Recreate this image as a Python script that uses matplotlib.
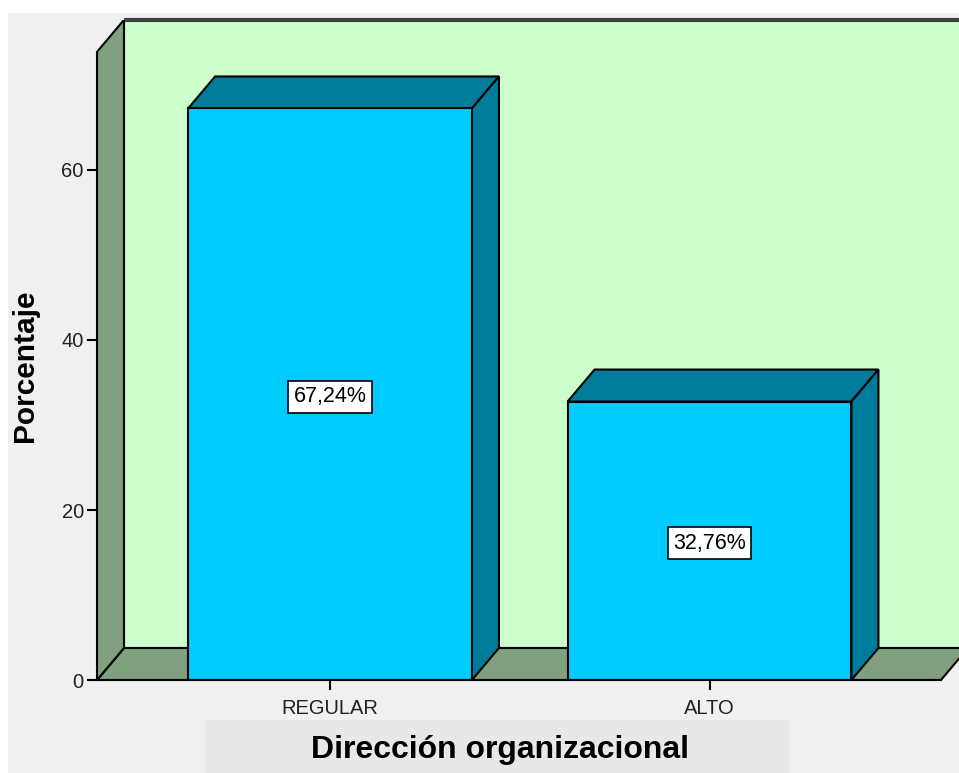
import matplotlib.pyplot as plt
from matplotlib.patches import Polygon, Rectangle

# data
categories = ['REGULAR', 'ALTO']
percentages = [67.24, 32.76]
value_labels = ['67,24%', '32,76%']
y_ticks = [0, 20, 40, 60]

plt.rcParams['font.family'] = ['Liberation Sans', 'DejaVu Sans']

W, H = 959, 773
fig = plt.figure(figsize=(W / 100, H / 100), dpi=100, facecolor='white')

# grey panel behind the chart
fig.patches.append(Rectangle((8 / W, 0), 1, (H - 13) / H, transform=fig.transFigure,
                             facecolor='#f0f0f0', edgecolor='none', zorder=-2))
# box behind the x label
fig.patches.append(Rectangle((205 / W, 0), (790 - 205) / W, (773 - 720) / H,
                             transform=fig.transFigure, facecolor='#e8e8e8',
                             edgecolor='none', zorder=-1))

ax = fig.add_axes([97 / W, 93 / H, (W - 97) / W, 660 / H])
ax.patch.set_visible(False)

x_left, x_front_end = -0.614, 1.610
x_right = x_left + (W - 97) / 379.5
y_top = 73.9
ax.set_xlim(x_left, x_right)
ax.set_ylim(0, 660 / 8.5)

# depth offset of the 3D look (data units)
DX = 27 / 379.5
DY = 32 / 8.5

edge = dict(edgecolor='black', linewidth=1.5, joinstyle='miter')
wall = '#ccffcc'
floor = '#80a080'
front = '#00ccff'
dark = '#007c9b'

# back wall
ax.add_patch(Polygon([(x_left + DX, DY), (x_right + 1, DY), (x_right + 1, y_top + DY),
                      (x_left + DX, y_top + DY)], facecolor=wall, zorder=1, **edge))
ax.plot([x_left + DX, x_right + 1], [y_top + DY] * 2, color='#404040', lw=3,
        solid_capstyle='butt', zorder=1.5, clip_on=False)
# floor
ax.add_patch(Polygon([(x_left, 0), (x_front_end, 0), (x_front_end + DX, DY),
                      (x_left + DX, DY)], facecolor=floor, zorder=2, **edge))
# left side wall
ax.add_patch(Polygon([(x_left, 0), (x_left + DX, DY), (x_left + DX, y_top + DY),
                      (x_left, y_top)], facecolor=floor, zorder=2, **edge))

# bars
bw = 0.748
for i, (v, lab) in enumerate(zip(percentages, value_labels)):
    l, r = i - bw / 2, i + bw / 2
    ax.add_patch(Polygon([(l, v), (r, v), (r + DX, v + DY), (l + DX, v + DY)],
                         facecolor=dark, zorder=3, **edge))
    ax.add_patch(Polygon([(r, 0), (r + DX, DY), (r + DX, v + DY), (r, v)],
                         facecolor=dark, zorder=3, **edge))
    ax.add_patch(Rectangle((l, 0), bw, v, facecolor=front, zorder=4, **edge))
    ax.text(i, v / 2 - 0.3, lab, ha='center', va='center', fontsize=15.5, zorder=5,
            bbox=dict(boxstyle='square,pad=0.25', facecolor='white',
                      edgecolor='black', linewidth=1.2))

# axes
for s in ['top', 'right']:
    ax.spines[s].set_visible(False)
ax.spines['left'].set_bounds(0, y_top)
ax.spines['bottom'].set_bounds(x_left, x_front_end)
for s in ['left', 'bottom']:
    ax.spines[s].set_linewidth(1.5)
    ax.spines[s].set_zorder(6)
ax.set_yticks(y_ticks)
ax.set_xticks(range(len(categories)))
ax.set_xticklabels(categories)
ax.tick_params(axis='both', length=7.5, width=1.5, labelsize=14.5,
               labelcolor='#222222')
ax.tick_params(axis='y', pad=2)
ax.tick_params(axis='x', pad=6)

fig.text(25 / W, 1 - 366 / H, 'Porcentaje', rotation=90, ha='center', va='center',
         fontsize=21.5, fontweight='bold')
fig.text(500 / W, 1 - 750 / H, 'Dirección organizacional', ha='center', va='center',
         fontsize=23, fontweight='bold')

fig.savefig('out.png', dpi=100, facecolor=fig.get_facecolor())
